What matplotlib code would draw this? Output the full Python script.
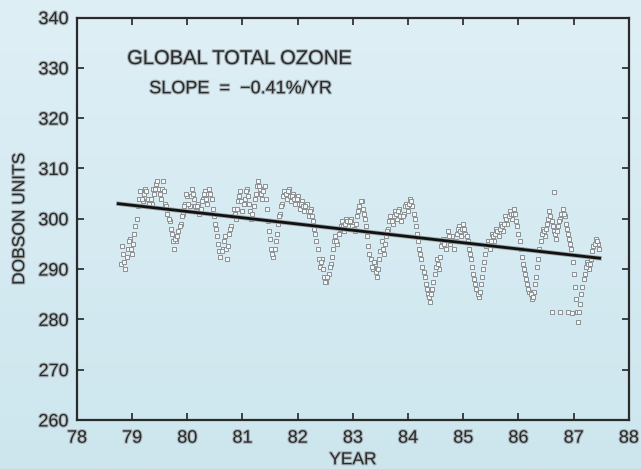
import numpy as np
import matplotlib
matplotlib.use("Agg")
import matplotlib.pyplot as plt
import matplotlib.patheffects as pe
from matplotlib.colors import LinearSegmentedColormap

# Global total ozone readings, sampled every 0.04 yr from late 1978
start_year = 78.80
step_year = 0.04
ozone = [
    291, 293, 290, 294, 296, 293, 297, 300, 304, 305.5,
    303.5, 306, 304, 302.5, 303, 305, 307, 306, 304, 307.5,
    303, 301, 299.5, 297, 294, 295.5, 297.5, 299, 301, 303,
    304.5, 302.5, 306, 304, 301.5, 303, 302, 304, 305.5, 303,
    306, 304, 300.5, 298, 295, 292.5, 294, 296.5, 292, 297,
    298.5, 302, 300, 303.5, 305.5, 301.5, 304, 306, 303, 300,
    302.5, 305, 307.5, 306, 304, 306.5, 302, 297.5, 294, 292.5,
    295.5, 299, 301, 303, 305.5, 304, 306, 303.5, 305, 303,
    304.5, 302, 303.5, 301.5, 303, 300.5, 302, 299.5, 297, 294,
    290.5, 292, 288.5, 287.5, 289, 291, 294, 296.5, 295, 298,
    299.5, 297.5, 300, 298.5, 300, 299, 297.5, 300.5, 302.5, 303.5,
    301, 298.5, 294.5, 292, 290, 291, 288.5, 292, 295.5, 293,
    296.5, 298, 300.5, 299, 301.5, 300, 302, 299.5, 301, 303,
    301.5, 304, 302.5, 300, 297, 294, 292, 289.5, 287, 285,
    283.5, 286, 289, 292, 290, 294.5, 296, 294, 297.5, 295,
    296.5, 294, 297, 298.5, 296.5, 299, 297, 295.5, 293, 290.5,
    288, 286, 284.5, 287, 290, 293, 295.5, 294, 297, 295.5,
    298, 296.5, 299, 297.5, 300.5, 299, 301.5, 300, 302, 299.5,
    297, 294, 291, 289, 287, 285.5, 284, 285.5, 288.5, 292,
    295.5, 298, 296.5, 299, 301.5, 299.5, 297.5, 296, 298.5, 300,
    302, 300.5, 298, 296, 294, 289, 284, 279.5, 283, 286.5,
    289, 291.5, 290, 292, 294.5, 296, 295,
]
# Readings taken halfway between the samples above
ozone_mid = [
    294.5, 291.5, 292.5, 295.5, 294, 295, 298.5, 302.5, 305.5, 304,
    305, 305.5, 303, 304, 306, 306, 307.5, 305, 306, 305.5,
    302.5, 300, 298, 295.5, 296, 296.5, 298.5, 300.5, 302.5, 305,
    303, 304.5, 305, 302.5, 302.5, 301, 303.5, 305, 304, 305,
    305, 302, 299, 296.5, 293.5, 293.5, 295.5, 294, 294.5, 298,
    300.5, 301, 302, 304.5, 303.5, 303, 305.5, 304.5, 301.5, 301,
    304, 306.5, 306.5, 305, 305.5, 304, 299.5, 296, 293, 294,
    297, 300.5, 302.5, 304.5, 305, 305.5, 304.5, 304.5, 304, 304,
    303, 303, 302.5, 302.5, 301.5, 301.5, 300.5, 298, 295.5, 292,
    291.5, 290, 287.5, 288.5, 290.5, 292.5, 295.5, 295.5, 297, 298.5,
    298.5, 299, 299.5, 299.5, 298.5, 298, 299, 301.5, 303.5, 302,
    300, 296.5, 293, 290.5, 291.5, 289.5, 290, 293.5, 294, 295,
    297.5, 299.5, 299.5, 300.5, 301, 301.5, 300.5, 300.5, 302.5, 302.5,
    303, 303.5, 301, 298.5, 295.5, 293, 290.5, 288.5, 286, 284.5,
    285, 287.5, 290.5, 291, 292.5, 295.5, 295, 296, 296.5, 295.5,
    295.5, 295.5, 298, 297.5, 298, 298, 296.5, 294, 292, 289,
    287, 285, 285.5, 288.5, 291.5, 294.5, 295, 295.5, 296.5, 297,
    297.5, 298, 298.5, 299, 300, 300.5, 301, 301, 301, 298.5,
    295.5, 292.5, 290, 288, 286, 285, 284.5, 287, 290.5, 294,
    297, 297.5, 298, 300, 300.5, 298.5, 297, 297.5, 299.5, 301,
    301, 299, 297, 295, 291.5, 286.5, 281.5, 281.5, 285, 288,
    290.5, 291, 291, 293.5, 295, 295.5, 294,
]
# Isolated readings away from the main trace
iso_years = [86.65, 86.60, 86.75, 86.90, 86.97]
iso_ozone = [305.3, 281.5, 281.5, 281.5, 281.2]

# Linear trend
trend_start, trend_end = 78.75, 87.47
trend_base = 303.0
slope_pct = -0.41  # percent per year

years = start_year + step_year * np.arange(len(ozone))
years_mid = years + step_year / 2

fig = plt.figure(figsize=(6.41, 4.69), dpi=100)
fig.patch.set_facecolor("#d5eaf2")

# soft vertical background gradient
gax = fig.add_axes([0, 0, 1, 1], zorder=-10)
grad = np.linspace(0, 1, 256)[:, None]
cmap = LinearSegmentedColormap.from_list("bgc", ["#dfeff6", "#cde6ee"])
gax.imshow(grad, aspect="auto", cmap=cmap, extent=[0, 1, 0, 1])
gax.set_axis_off()

ax = fig.add_axes([0.120, 0.1045, 0.861, 0.858])
ax.set_facecolor("none")

mk = dict(linestyle="none", marker="s", markersize=3.0,
          markerfacecolor="#f2f6f6", markeredgecolor="#8a8f92",
          markeredgewidth=0.7, zorder=2)
ax.plot(years, ozone, **mk)
ax.plot(years_mid, ozone_mid, **mk)
ax.plot(iso_years, iso_ozone, **mk)

tx = np.array([trend_start, trend_end])
ty = trend_base * (1 + slope_pct / 100 * (tx - trend_start))
ax.plot(tx, ty, color="#111111", linewidth=2.0, zorder=3,
        path_effects=[pe.withStroke(linewidth=3.2, foreground="#9aa3a6")])

ax.set_xlim(78, 88)
ax.set_ylim(260, 340)
ax.set_xticks(np.arange(78, 89, 1))
ax.set_yticks(np.arange(260, 341, 10))

font = "Liberation Sans"
txt_color = "#2a2a2a"
halo = [pe.withStroke(linewidth=1.6, foreground="#a9b4b8")]

ax.tick_params(direction="in", length=5, width=1.3, color="#333333",
               top=True, right=True, labelsize=13, labelcolor=txt_color)
ax.tick_params(axis="x", pad=7)
ax.tick_params(axis="y", pad=6)
for lab in ax.get_xticklabels() + ax.get_yticklabels():
    lab.set_fontfamily(font)
    lab.set_path_effects(halo)

for s in ax.spines.values():
    s.set_color("#2a2a2a")
    s.set_linewidth(1.6)

ax.set_xlabel("YEAR", fontfamily=font, fontsize=12.5, color=txt_color,
              labelpad=4, path_effects=halo)
ax.set_ylabel("DOBSON UNITS", fontfamily=font, fontsize=12.5, color=txt_color,
              labelpad=8, path_effects=halo)

ax.text(0.091, 0.898, "GLOBAL TOTAL OZONE", transform=ax.transAxes,
        fontfamily=font, fontsize=14.5, color=txt_color, va="center",
        ha="left", path_effects=halo)
ax.text(0.131, 0.823, "SLOPE  =  \u22120.41%/YR", transform=ax.transAxes,
        fontfamily=font, fontsize=13, color=txt_color, va="center",
        ha="left", path_effects=halo)

fig.savefig("out.png", dpi=100, facecolor=fig.get_facecolor())
